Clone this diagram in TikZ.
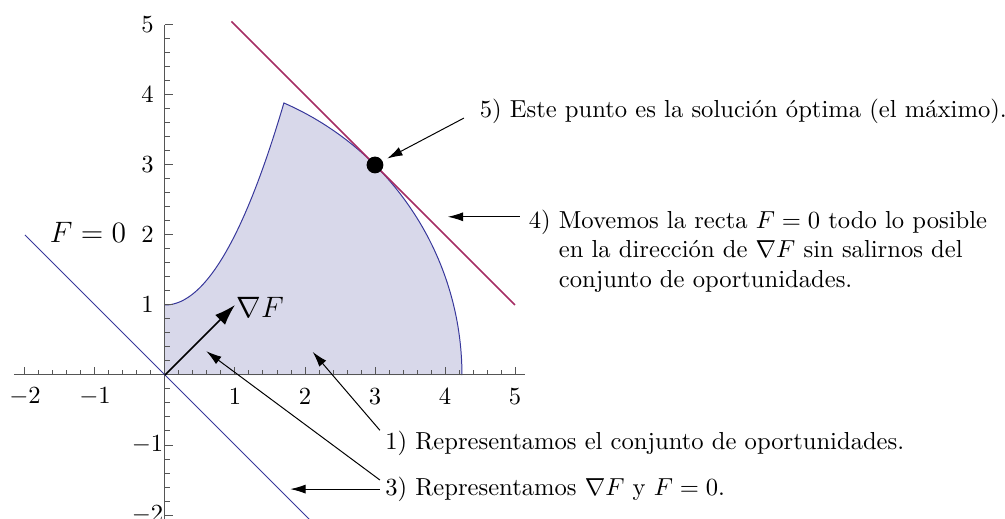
\documentclass[tikz,border=0pt]{standalone}
\usepackage{amsmath,amssymb}
\usepackage{tikz}
\usetikzlibrary{arrows.meta,positioning,calc}
\usepackage{xcolor}
\definecolor{regionfill}{RGB}{216,216,234}
\definecolor{regionline}{RGB}{55,55,155}
\definecolor{tangline}{RGB}{165,45,100}
\definecolor{axisgray}{RGB}{85,85,85}

\begin{document}
\begin{tikzpicture}[x=1cm,y=1cm,
  note/.style={anchor=west,inner sep=0pt},
  pointer/.style={-{Latex[length=2.2mm,width=1.3mm]},thin}]
\clip (-2.357,-2.057) rectangle (12.0,5.357);
% conjunto de oportunidades
\fill[regionfill] (0,0) -- (0,1) -- plot[domain=0:1.699,samples=60] (\x,{1+\x*\x})
  arc[start angle=66.39,end angle=0,radius=4.2426] -- cycle;
\draw[regionline] plot[domain=0:1.699,samples=60] (\x,{1+\x*\x})
  arc[start angle=66.39,end angle=0,radius=4.2426];
% ejes
\draw[axisgray] (-2.16,0) -- (5.14,0);
\draw[axisgray] (0,-2.2) -- (0,5);
\foreach \i in {-10,...,25} {
  \draw[axisgray] (\i/5,0) -- (\i/5,0.07);
  \draw[axisgray] (0,\i/5) -- (0.07,\i/5);
}
\foreach \i in {-2,...,5} {
  \draw[axisgray] (\i,0) -- (\i,0.12);
  \draw[axisgray] (0,\i) -- (0.12,\i);
}
\foreach \i in {-2,-1,1,2,3,4,5} {
  \node (xl\i) at (\i,-0.31) {$\i$};
  \node (yl\i) at (-0.25,\i) {$\i$};
}
% rectas
\draw[regionline] (-2,2) -- (2.1,-2.1);
\draw[tangline,semithick] (0.95,5.05) -- (5,1);
\draw[-{Latex[length=3mm,width=2mm]},semithick] (0,0) -- (1,1);
\node (gradF) at (1.36,0.97) {\large$\nabla F$};
\node (fzero) at (-1.1,2.03) {\large$F=0$};
\node[circle,fill,inner sep=0pt,minimum size=2.4mm] (opt) at (3,3) {};
% notas
\node[note] (n5) at (4.49,3.76) {5) Este punto es la soluci\'on \'optima (el m\'aximo).};
\node[note,anchor=north west] (n4) at (5.19,2.40) {%
  \begin{tabular}{@{}l@{\ }l@{}}
  4) & Movemos la recta $F=0$ todo lo posible\\
     & en la direcci\'on de $\nabla F$ sin salirnos del\\
     & conjunto de oportunidades.
  \end{tabular}};
\node[note] (n1) at (3.14,-0.97) {1) Representamos el conjunto de oportunidades.};
\node[note] (n3) at (3.14,-1.64) {3) Representamos $\nabla F$ y $F=0$.};
\coordinate (s5) at (4.27,3.67);
\coordinate (s4) at (5.07,2.26);
\coordinate (t4) at (4.04,2.26);
\coordinate (s1) at (3.07,-0.79);
\coordinate (t1) at (2.11,0.33);
\coordinate (s3a) at (3.07,-1.50);
\coordinate (t3a) at (0.59,0.34);
\coordinate (s3b) at (3.07,-1.63);
\coordinate (t3b) at (1.79,-1.63);
\draw[pointer,shorten >=2pt] (s5) -- (opt);
\draw[pointer] (s4) -- (t4);
\draw[pointer] (s1) -- (t1);
\draw[pointer] (s3a) -- (t3a);
\draw[pointer] (s3b) -- (t3b);
\end{tikzpicture}
\end{document}
